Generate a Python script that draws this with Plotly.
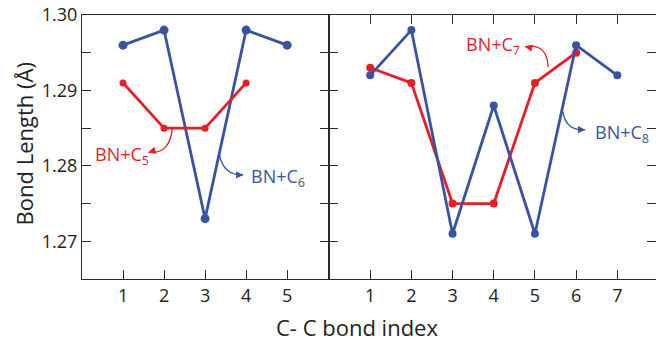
import plotly.graph_objects as go

# ---- data ----
idx_left = [1, 2, 3, 4, 5]
bn_c6 = [1.296, 1.298, 1.273, 1.298, 1.296]
idx_c5 = [1, 2, 3, 4]
bn_c5 = [1.291, 1.285, 1.285, 1.291]

idx_c7 = [1, 2, 3, 4, 5, 6]
bn_c7 = [1.293, 1.291, 1.275, 1.275, 1.291, 1.295]
idx_c8 = [1, 2, 3, 4, 5, 6, 7]
bn_c8 = [1.292, 1.298, 1.271, 1.288, 1.271, 1.296, 1.292]

y_ticks = [1.265, 1.27, 1.275, 1.28, 1.285, 1.29, 1.295, 1.30]
y_ticktext = ["", "1.27", "", "1.28", "", "1.29", "", "1.30"]

RED = "#ED1C24"
BLUE = "#3953A4"
AX = "#2a2a2a"
FONT = "Open Sans"

fig = go.Figure()

fig.add_trace(go.Scatter(x=idx_left, y=bn_c6, mode="lines+markers", xaxis="x", yaxis="y",
                         line=dict(color=BLUE, width=2.8), marker=dict(color=BLUE, size=9)))
fig.add_trace(go.Scatter(x=idx_c5, y=bn_c5, mode="lines+markers", xaxis="x", yaxis="y",
                         line=dict(color=RED, width=2.8), marker=dict(color=RED, size=7)))
fig.add_trace(go.Scatter(x=idx_c7, y=bn_c7, mode="lines+markers", xaxis="x2", yaxis="y2",
                         line=dict(color=RED, width=2.8), marker=dict(color=RED, size=8)))
fig.add_trace(go.Scatter(x=idx_c8, y=bn_c8, mode="lines+markers", xaxis="x2", yaxis="y2",
                         line=dict(color=BLUE, width=2.8), marker=dict(color=BLUE, size=8)))

d1 = 247 / 574
common_axis = dict(showline=True, linecolor=AX, linewidth=1.3, ticks="inside", ticklen=9,
                   tickwidth=1.3, tickcolor=AX, showgrid=False, zeroline=False,
                   tickfont=dict(family=FONT, size=18, color="#222"))

fig.update_layout(
    width=656, height=342,
    margin=dict(l=82, r=0, t=15, b=63),
    paper_bgcolor="white", plot_bgcolor="white",
    showlegend=False,
    xaxis=dict(domain=[0, d1], range=[0, 6.02], tickvals=idx_left, mirror=True, anchor="y",
               **common_axis),
    yaxis=dict(domain=[0, 1], range=[1.265, 1.30], tickvals=y_ticks, ticktext=y_ticktext,
               mirror="ticks", anchor="x", **common_axis),
    xaxis2=dict(domain=[d1, 1], range=[0, 7.94], tickvals=idx_c8, mirror="ticks", anchor="y2",
                **common_axis),
    yaxis2=dict(domain=[0, 1], range=[1.265, 1.30], tickvals=y_ticks, showticklabels=False,
                mirror="ticks", anchor="x2", **common_axis),
)

# axis titles
fig.add_annotation(text="Bond Length (Å)", xref="paper", yref="paper", x=-0.101, y=0.51,
                   xanchor="center", yanchor="middle",
                   textangle=-90, showarrow=False, font=dict(family=FONT, size=22, color="#222"))
fig.add_annotation(text="C- C bond index", xref="paper", yref="paper", x=0.479, y=-0.18,
                   xanchor="center", yanchor="middle",
                   showarrow=False, font=dict(family=FONT, size=22, color="#222"))

# labels
def label(text, x, y, xr, yr, color):
    fig.add_annotation(text=text, x=x, y=y, xref=xr, yref=yr, showarrow=False,
                       xanchor="center", yanchor="middle",
                       font=dict(family=FONT, size=18, color=color))

label("BN+C<sub>5</sub>", 0.97, 1.2814, "x", "y", RED)
label("BN+C<sub>6</sub>", 4.78, 1.2785, "x", "y", BLUE)
label("BN+C<sub>7</sub>", 3.98, 1.296, "x2", "y2", RED)
label("BN+C<sub>8</sub>", 7.12, 1.2843, "x2", "y2", BLUE)

# curved arrows
def curve(x0, y0, cx, cy, x1, y1, xr, yr, color, ax, ay):
    fig.add_shape(type="path", path=f"M {x0},{y0} Q {cx},{cy} {x1},{y1}",
                  xref=xr, yref=yr, line=dict(color=color, width=1.3))
    fig.add_annotation(x=x1, y=y1, xref=xr, yref=yr, ax=ax, ay=ay, text="",
                       showarrow=True, arrowhead=2, arrowsize=1.1, arrowwidth=1.3,
                       arrowcolor=color)

curve(2.2, 1.285, 2.15, 1.2815, 1.62, 1.2818, "x", "y", RED, 5, -1.5)
curve(3.35, 1.2815, 3.45, 1.2787, 3.93, 1.2788, "x", "y", BLUE, -5, 0)
curve(5.32, 1.2931, 5.3, 1.2963, 4.76, 1.2958, "x2", "y2", RED, 5, 1)
curve(5.68, 1.2872, 5.75, 1.2846, 6.22, 1.2848, "x2", "y2", BLUE, -5, 0)

fig.write_html("out.html")
